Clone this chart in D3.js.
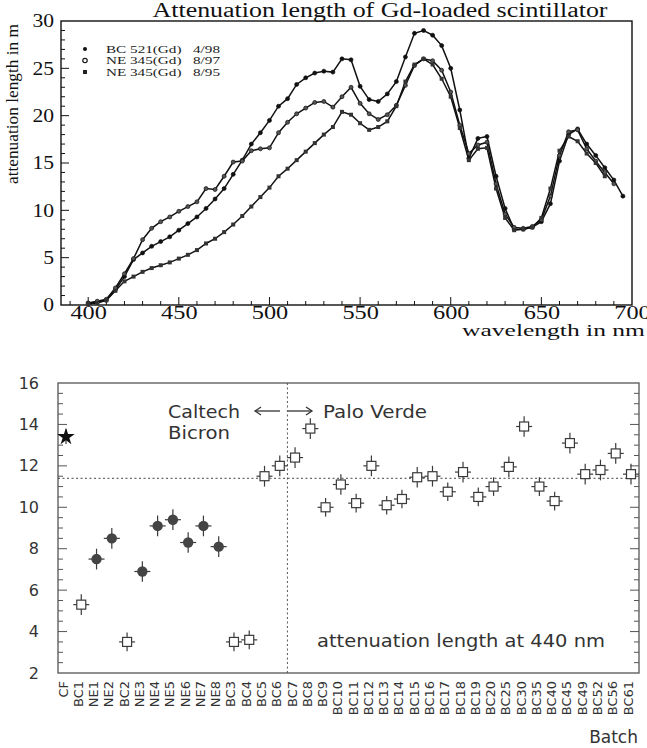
<!DOCTYPE html>
<html>
<head>
<meta charset="utf-8">
<script src="https://cdnjs.cloudflare.com/ajax/libs/d3/7.8.5/d3.min.js"></script>
<style>
  body { margin: 0; background: #fff; }
  svg { display: block; }
</style>
</head>
<body>
<div id="chart"></div>
<script>

// ################## data : top panel ##################
var wavelengths = [400, 405, 410, 415, 420, 425, 430, 435, 440, 445, 450, 455, 460, 465, 470, 475, 480, 485, 490, 495,
  500, 505, 510, 515, 520, 525, 530, 535, 540, 545, 550, 555, 560, 565, 570, 575, 580, 585, 590, 595,
  600, 605, 610, 615, 620, 625, 630, 635, 640, 645, 650, 655, 660, 665, 670, 675, 680, 685, 690, 695];

var bc521_498 = [0.2, 0.3, 0.5, 1.6, 3.0, 4.8, 5.5, 6.2, 6.7, 7.2, 7.9, 8.6, 9.3, 10.2, 11.2, 12.3, 13.8, 15.3, 17.0, 18.2,
  19.5, 21.0, 21.8, 23.3, 24.0, 24.5, 24.7, 24.6, 26.0, 25.9, 23.1, 21.7, 21.5, 22.3, 23.6, 26.2, 28.7, 29.0, 28.5, 27.4,
  25.0, 20.6, 15.5, 17.6, 17.8, 13.6, 10.2, 8.0, 8.0, 8.2, 8.8, 10.7, 15.2, 18.0, 18.6, 17.0, 15.8, 14.5, 13.2, 11.5];

var ne345_897 = [0.2, 0.4, 0.6, 1.8, 3.3, 4.9, 6.9, 8.1, 8.8, 9.3, 9.9, 10.4, 10.9, 12.3, 12.2, 13.6, 15.1, 15.2, 16.3, 16.5,
  16.6, 18.2, 19.3, 20.2, 20.8, 21.4, 21.5, 20.9, 22.0, 23.0, 21.3, 20.2, 19.6, 20.1, 21.1, 23.2, 25.3, 26.0, 25.8, 24.8,
  22.5, 19.0, 16.0, 16.9, 17.2, 12.8, 9.6, 8.2, 8.1, 8.3, 9.0, 11.5, 15.8, 18.3, 18.5, 16.5, 15.2, 14.0, 12.8, null];

var ne345_895 = [0.1, 0.2, 0.5, 1.5, 2.5, 3.0, 3.5, 3.9, 4.2, 4.5, 4.9, 5.3, 5.8, 6.5, 7.0, 7.7, 8.5, 9.4, 10.4, 11.4,
  12.4, 13.6, 14.4, 15.3, 16.2, 17.1, 18.0, 18.8, 20.4, 20.1, 19.2, 18.5, 18.8, 19.4, 21.0, 23.6, 25.4, 26.0, 25.4, 23.9,
  22.0, 18.7, 15.3, 16.5, 16.6, 12.3, 9.2, 7.9, 8.0, 8.2, 9.2, 12.3, 16.3, 17.8, 17.3, 16.0, 15.0, 13.6, null, null];

var seriesNames = ['BC 521(Gd)', 'NE 345(Gd)', 'NE 345(Gd)'];
var seriesDates = ['4/98', '8/97', '8/95'];

// ################## data : bottom panel ##################
var batches = ['CF', 'BC1', 'NE1', 'NE2', 'BC2', 'NE3', 'NE4', 'NE5', 'NE6', 'NE7', 'NE8', 'BC3', 'BC4', 'BC5', 'BC6',
  'BC7', 'BC8', 'BC9', 'BC10', 'BC11', 'BC12', 'BC13', 'BC14', 'BC15', 'BC16', 'BC17', 'BC18', 'BC19', 'BC20',
  'BC25', 'BC30', 'BC35', 'BC40', 'BC45', 'BC49', 'BC52', 'BC56', 'BC61'];

var attLength440 = [13.4, 5.3, 7.5, 8.5, 3.5, 6.9, 9.1, 9.4, 8.3, 9.1, 8.1, 3.5, 3.6, 11.5, 12.0, 12.4, 13.8, 10.0,
  11.1, 10.2, 12.0, 10.1, 10.4, 11.45, 11.5, 10.75, 11.7, 10.5, 11.0, 11.95, 13.9, 11.0, 10.3, 13.1, 11.6, 11.8, 12.6, 11.6];

var attError440 = [0.35, 0.5, 0.5, 0.5, 0.45, 0.5, 0.5, 0.5, 0.5, 0.5, 0.5, 0.45, 0.45, 0.5, 0.5, 0.5, 0.5, 0.45,
  0.5, 0.45, 0.5, 0.45, 0.45, 0.5, 0.5, 0.45, 0.5, 0.45, 0.45, 0.5, 0.5, 0.45, 0.45, 0.5, 0.5, 0.5, 0.5, 0.5];

var meanLength = 11.4;
var yTicksBottom = [2, 4, 6, 8, 10, 12, 14, 16];
var yTicksTop = [0, 5, 10, 15, 20, 25, 30];
var xTicksTop = [400, 450, 500, 550, 600, 650, 700];


// exposed variables
var attrs = {
  svgWidth: 647,
  svgHeight: 748,
  serif: '"Liberation Serif", "Times New Roman", serif',
  sans: '"DejaVu Sans", Verdana, sans-serif',
  stretch: 1.3
};

var svg = d3.select('#chart').append('svg')
  .attr('width', attrs.svgWidth)
  .attr('height', attrs.svgHeight);

// stretch text horizontally like the scanned figure
function stretchText(sel, k) {
  sel.each(function () {
    var w = this.getComputedTextLength();
    d3.select(this).attr('textLength', w * k).attr('lengthAdjust', 'spacingAndGlyphs');
  });
}
function fitText(sel, len) {
  sel.attr('textLength', len).attr('lengthAdjust', 'spacingAndGlyphs');
}

/* ############################  TOP PANEL  ############################ */

var topBox = { left: 61, top: 21, width: 571, height: 284 };

var scalesTop = {};
scalesTop.x = d3.scaleLinear().domain([385, 700]).range([0, topBox.width]);
scalesTop.y = d3.scaleLinear().domain([0, 30]).range([topBox.height, 0]);

var gTop = svg.append('g').attr('transform', 'translate(' + topBox.left + ',' + topBox.top + ')');

// frame
gTop.append('rect')
  .attr('width', topBox.width)
  .attr('height', topBox.height)
  .attr('fill', 'none')
  .attr('stroke', '#111')
  .attr('stroke-width', 1.4);

// minor + major ticks, inward
var xMinor = d3.range(390, 700, 10);
gTop.selectAll('.xminor').data(xMinor).enter().append('line')
  .attr('x1', function (d) { return scalesTop.x(d); })
  .attr('x2', function (d) { return scalesTop.x(d); })
  .attr('y1', topBox.height)
  .attr('y2', function (d) { return topBox.height - (d % 50 === 0 ? 8 : 4); })
  .attr('stroke', '#111');

var yMinor = d3.range(1, 30, 1);
gTop.selectAll('.yminor').data(yMinor).enter().append('line')
  .attr('x1', 0)
  .attr('x2', function (d) { return d % 5 === 0 ? 8 : 4; })
  .attr('y1', function (d) { return scalesTop.y(d); })
  .attr('y2', function (d) { return scalesTop.y(d); })
  .attr('stroke', '#111');

// axes labels
var axesTop = {};
axesTop.bottom = d3.axisBottom(scalesTop.x).tickValues(xTicksTop).tickSize(0).tickPadding(1);
axesTop.left = d3.axisLeft(scalesTop.y).tickValues(yTicksTop).tickSize(0).tickPadding(7);

var bottomAxisTop = gTop.append('g')
  .attr('transform', 'translate(0,' + topBox.height + ')')
  .call(axesTop.bottom);
var leftAxisTop = gTop.append('g').call(axesTop.left);

[bottomAxisTop, leftAxisTop].forEach(function (ax) {
  ax.select('.domain').remove();
  ax.selectAll('text')
    .attr('font-family', attrs.serif)
    .attr('font-size', 18)
    .attr('fill', '#111');
});
bottomAxisTop.selectAll('text').call(stretchText, 1.35);
leftAxisTop.selectAll('text').call(stretchText, 1.2);

// curves
var seriesTop = [bc521_498, ne345_897, ne345_895].map(function (vals, i) {
  return {
    id: i,
    points: wavelengths.map(function (w, j) { return { w: w, v: vals[j] }; })
      .filter(function (d) { return d.v !== null; })
  };
});

var lineTop = d3.line()
  .x(function (d) { return scalesTop.x(d.w); })
  .y(function (d) { return scalesTop.y(d.v); });

gTop.selectAll('.curve').data(seriesTop).enter().append('path')
  .attr('class', 'curve')
  .attr('d', function (d) { return lineTop(d.points); })
  .attr('fill', 'none')
  .attr('stroke', '#111')
  .attr('stroke-width', 1.5);

var markerGroups = gTop.selectAll('.marks').data(seriesTop).enter().append('g');
markerGroups.each(function (s) {
  var g = d3.select(this);
  if (s.id === 2) {
    g.selectAll('rect').data(s.points).enter().append('rect')
      .attr('x', function (d) { return scalesTop.x(d.w) - 2; })
      .attr('y', function (d) { return scalesTop.y(d.v) - 2; })
      .attr('width', 4).attr('height', 4)
      .attr('fill', '#333');
  } else {
    g.selectAll('circle').data(s.points).enter().append('circle')
      .attr('cx', function (d) { return scalesTop.x(d.w); })
      .attr('cy', function (d) { return scalesTop.y(d.v); })
      .attr('r', 2)
      .attr('fill', s.id === 0 ? '#111' : '#555')
      .attr('stroke', '#111')
      .attr('stroke-width', 0.7);
  }
});

// legend
var legend = gTop.append('g').attr('transform', 'translate(24,28)');
seriesNames.forEach(function (name, i) {
  var row = legend.append('g').attr('transform', 'translate(0,' + (i * 11.5) + ')');
  if (i === 2) {
    row.append('rect').attr('x', -2).attr('y', -2).attr('width', 4).attr('height', 4).attr('fill', '#222');
  } else {
    row.append('circle').attr('r', i === 0 ? 2 : 2.2)
      .attr('fill', i === 0 ? '#111' : '#fff')
      .attr('stroke', '#111').attr('stroke-width', i === 0 ? 0 : 1.2);
  }
  row.append('text').attr('x', 21).attr('y', 3.5)
    .attr('font-family', attrs.serif).attr('font-size', 11).attr('fill', '#222')
    .text(name).call(stretchText, 1.38);
  row.append('text').attr('x', 108).attr('y', 3.5)
    .attr('font-family', attrs.serif).attr('font-size', 11).attr('fill', '#222')
    .text(seriesDates[i]).call(stretchText, 1.38);
});

// title
svg.append('text')
  .attr('x', 380).attr('y', 17)
  .attr('text-anchor', 'middle')
  .attr('font-family', attrs.serif).attr('font-size', 20).attr('fill', '#111')
  .text('Attenuation length of Gd-loaded scintillator')
  .call(fitText, 455);

svg.append('text')
  .attr('x', 645).attr('y', 336)
  .attr('text-anchor', 'end')
  .attr('font-family', attrs.serif).attr('font-size', 17).attr('fill', '#111')
  .text('wavelength in nm')
  .call(fitText, 183);

svg.append('text')
  .attr('transform', 'translate(18,104) rotate(-90)')
  .attr('text-anchor', 'middle')
  .attr('font-family', attrs.serif).attr('font-size', 17).attr('fill', '#111')
  .text('attenuation length in m')
  .call(fitText, 160);


/* ############################  BOTTOM PANEL  ############################ */

var bot = { left: 58, top: 383, width: 581, height: 290 };
var ink = '#3a3a3a';

var scalesBot = {};
scalesBot.x = d3.scalePoint().domain(batches).range([8, 573]);
scalesBot.y = d3.scaleLinear().domain([2, 16]).range([bot.height, 0]);

var gBot = svg.append('g').attr('transform', 'translate(' + bot.left + ',' + bot.top + ')');

gBot.append('rect')
  .attr('width', bot.width).attr('height', bot.height)
  .attr('fill', 'none').attr('stroke', '#555').attr('stroke-width', 1.3);

// ticks on both vertical sides
var yMinorBot = d3.range(2.5, 16, 0.5);
['left', 'right'].forEach(function (side) {
  gBot.selectAll('.t' + side).data(yMinorBot).enter().append('line')
    .attr('x1', side === 'left' ? 0 : bot.width)
    .attr('x2', function (d) {
      var len = d % 2 === 0 ? 9 : 5;
      return side === 'left' ? len : bot.width - len;
    })
    .attr('y1', function (d) { return scalesBot.y(d); })
    .attr('y2', function (d) { return scalesBot.y(d); })
    .attr('stroke', '#555');
});

// y labels
var axesBot = {};
axesBot.left = d3.axisLeft(scalesBot.y).tickValues(yTicksBottom).tickSize(0).tickPadding(19);
var leftAxisBot = gBot.append('g').call(axesBot.left);
leftAxisBot.select('.domain').remove();
leftAxisBot.selectAll('text')
  .attr('font-family', attrs.sans).attr('font-size', 16).attr('fill', '#333');

// category labels
var axesBotX = d3.axisBottom(scalesBot.x).tickSize(0).tickPadding(0);
var bottomAxisBot = gBot.append('g')
  .attr('transform', 'translate(0,' + bot.height + ')')
  .call(axesBotX);
bottomAxisBot.select('.domain').remove();
bottomAxisBot.selectAll('text')
  .attr('font-family', attrs.sans).attr('font-size', 13).attr('fill', '#333')
  .attr('text-anchor', 'end')
  .attr('dy', null)
  .attr('y', 0)
  .attr('transform', 'translate(1,8) rotate(-90)');

// reference lines
var splitX = (scalesBot.x('BC6') + scalesBot.x('BC7')) / 2;
gBot.append('line')
  .attr('x1', 0).attr('x2', bot.width)
  .attr('y1', scalesBot.y(meanLength)).attr('y2', scalesBot.y(meanLength))
  .attr('stroke', '#444').attr('stroke-dasharray', '2,2.5');
gBot.append('line')
  .attr('x1', splitX).attr('x2', splitX)
  .attr('y1', 0).attr('y2', bot.height)
  .attr('stroke', '#555').attr('stroke-dasharray', '2,2.5');

// points
var pts = batches.map(function (b, i) {
  return { name: b, v: attLength440[i], e: attError440[i], kind: b === 'CF' ? 'star' : (b.indexOf('NE') === 0 ? 'filled' : 'open') };
});

var pg = gBot.selectAll('.pt').data(pts).enter().append('g')
  .attr('transform', function (d) { return 'translate(' + scalesBot.x(d.name) + ',' + scalesBot.y(d.v) + ')'; });

pg.append('line')
  .attr('x1', 0).attr('x2', 0)
  .attr('y1', function (d) { return scalesBot.y(d.v + d.e) - scalesBot.y(d.v); })
  .attr('y2', function (d) { return scalesBot.y(d.v - d.e) - scalesBot.y(d.v); })
  .attr('stroke', ink).attr('stroke-width', 1.2);
pg.filter(function (d) { return d.kind !== 'star'; }).append('line')
  .attr('x1', -8).attr('x2', 8).attr('y1', 0).attr('y2', 0)
  .attr('stroke', ink).attr('stroke-width', 1.2);

pg.filter(function (d) { return d.kind === 'open'; }).append('rect')
  .attr('x', -4.5).attr('y', -4.5).attr('width', 9).attr('height', 9)
  .attr('fill', '#fff').attr('stroke', ink).attr('stroke-width', 1.2);

pg.filter(function (d) { return d.kind === 'filled'; }).append('path')
  .attr('d', d3.symbol().type(d3.symbolCircle).size(85))
  .attr('fill', '#444');

pg.filter(function (d) { return d.kind === 'star'; }).append('path')
  .attr('d', d3.symbol().type(d3.symbolStar).size(95))
  .attr('fill', '#111');

// annotations
var note = gBot.append('g')
  .attr('font-family', attrs.sans).attr('font-size', 18).attr('fill', '#333');
note.append('text').attr('x', 110).attr('y', 35).text('Caltech').call(fitText, 72);
note.append('text').attr('x', 110).attr('y', 56).text('Bicron').call(fitText, 62);
note.append('text').attr('x', 265).attr('y', 35).text('Palo Verde').call(fitText, 104);
note.append('text').attr('x', 259).attr('y', 264).text('attenuation length at 440 nm').call(fitText, 288);

var arrowY = 28;
[[222, 197], [230, 254]].forEach(function (a) {
  var dir = a[1] > a[0] ? 1 : -1;
  note.append('line').attr('x1', a[0]).attr('x2', a[1]).attr('y1', arrowY).attr('y2', arrowY)
    .attr('stroke', '#333').attr('stroke-width', 1.3);
  note.append('path')
    .attr('d', 'M' + (a[1] - dir * 6) + ',' + (arrowY - 4) + 'L' + a[1] + ',' + arrowY + 'L' + (a[1] - dir * 6) + ',' + (arrowY + 4))
    .attr('fill', 'none').attr('stroke', '#333').attr('stroke-width', 1.3);
});

svg.append('text')
  .attr('x', 638).attr('y', 743)
  .attr('text-anchor', 'end')
  .attr('font-family', attrs.sans).attr('font-size', 17).attr('fill', '#333')
  .text('Batch');

</script>
</body>
</html>
